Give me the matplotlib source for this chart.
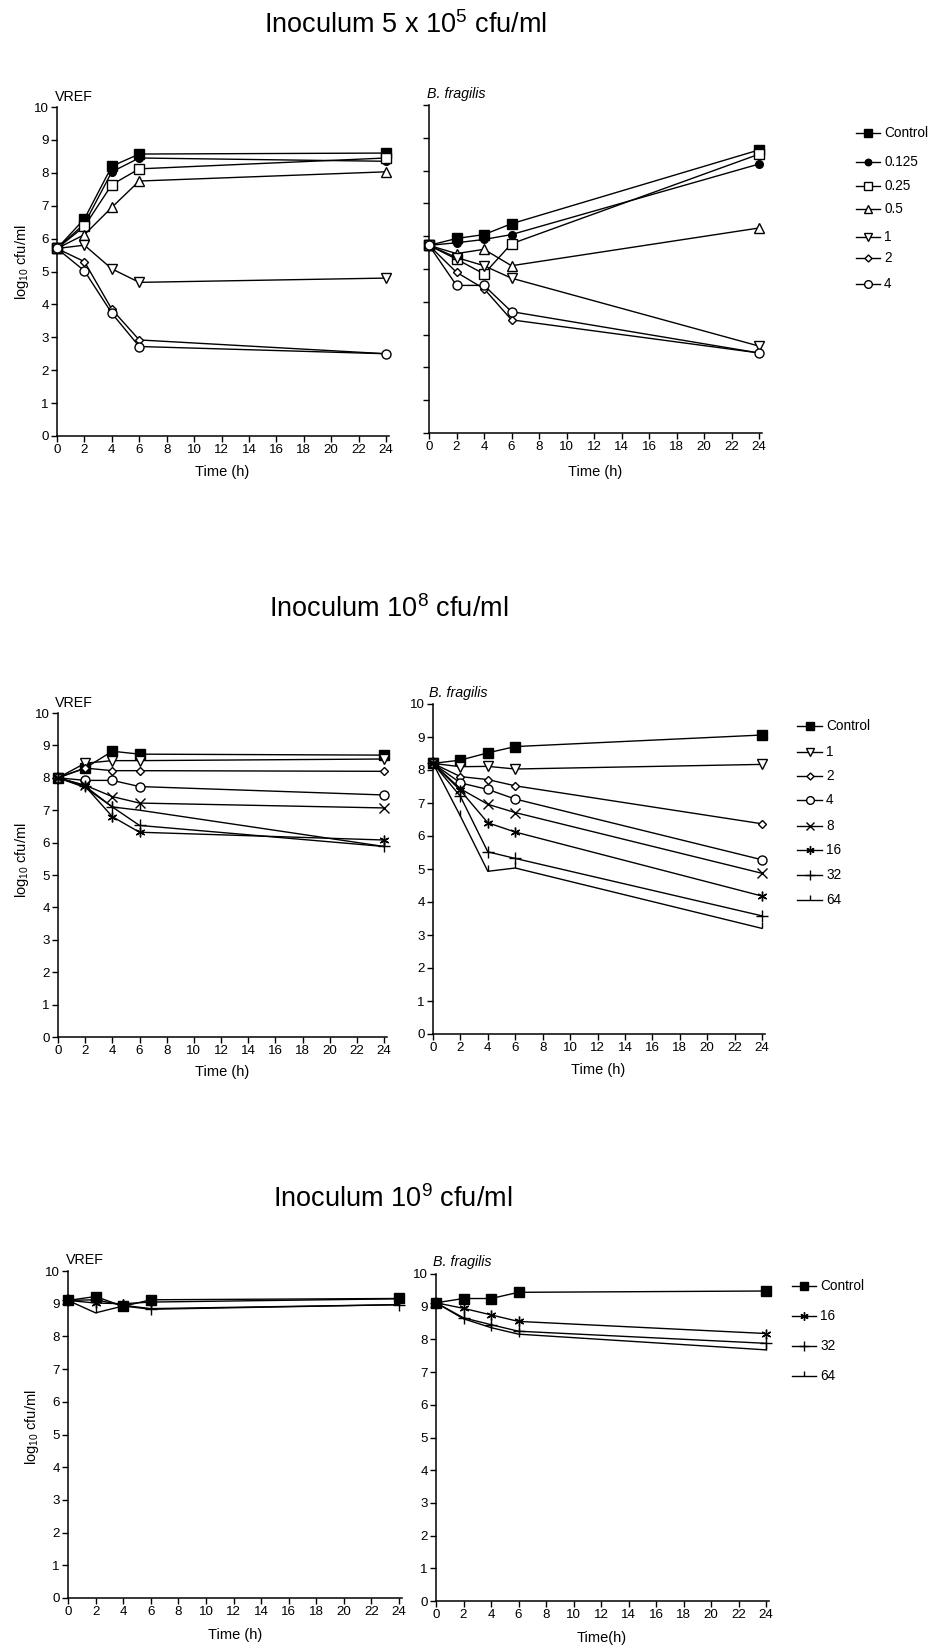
import matplotlib
matplotlib.use("Agg")
import matplotlib.pyplot as plt
from matplotlib.lines import Line2D

plt.rcParams['font.family'] = ['Liberation Sans', 'DejaVu Sans']
plt.rcParams['mathtext.fontset'] = 'custom'
plt.rcParams['mathtext.rm'] = 'Liberation Sans'
plt.rcParams['mathtext.it'] = 'Liberation Sans:italic'

# ---------------- data ----------------
time_h = [0, 2, 4, 6, 24]

# Inoculum 5 x 10^5 cfu/ml
labels_a = ['Control', '0.125', '0.25', '0.5', '1', '2', '4']
vref_a_control = [5.7, 6.6, 8.2, 8.57, 8.6]
vref_a_0125 = [5.7, 6.45, 8.03, 8.45, 8.35]
vref_a_025 = [5.7, 6.37, 7.64, 8.12, 8.45]
vref_a_05 = [5.7, 6.12, 6.95, 7.75, 8.03]
vref_a_1 = [5.7, 5.8, 5.08, 4.67, 4.8]
vref_a_2 = [5.7, 5.3, 3.85, 2.92, 2.5]
vref_a_4 = [5.7, 5.02, 3.73, 2.72, 2.5]
bfrag_a_control = [5.72, 5.93, 6.05, 6.38, 8.63]
bfrag_a_0125 = [5.72, 5.8, 5.9, 6.05, 8.2]
bfrag_a_025 = [5.72, 5.3, 4.85, 5.77, 8.5]
bfrag_a_05 = [5.72, 5.47, 5.6, 5.1, 6.25]
bfrag_a_1 = [5.72, 5.35, 5.1, 4.72, 2.65]
bfrag_a_2 = [5.72, 4.9, 4.4, 3.45, 2.44]
bfrag_a_4 = [5.72, 4.5, 4.5, 3.7, 2.44]

# Inoculum 10^8 cfu/ml
labels_b = ['Control', '1', '2', '4', '8', '16', '32', '64']
vref_b_control = [8.0, 8.3, 8.82, 8.73, 8.7]
vref_b_1 = [8.0, 8.45, 8.53, 8.53, 8.58]
vref_b_2 = [8.0, 8.3, 8.22, 8.22, 8.2]
vref_b_4 = [8.0, 7.92, 7.92, 7.73, 7.47]
vref_b_8 = [8.0, 7.77, 7.42, 7.22, 7.07]
vref_b_16 = [8.0, 7.74, 6.8, 6.32, 6.08]
vref_b_32 = [8.0, 7.74, 7.1, 6.53, 5.88]
vref_b_64 = [8.0, 7.7, 7.1, 7.0, 5.88]
bfrag_b_control = [8.2, 8.3, 8.52, 8.71, 9.06]
bfrag_b_1 = [8.2, 8.1, 8.11, 8.03, 8.17]
bfrag_b_2 = [8.2, 7.8, 7.71, 7.52, 6.37]
bfrag_b_4 = [8.2, 7.61, 7.41, 7.12, 5.28]
bfrag_b_8 = [8.2, 7.43, 6.96, 6.71, 4.87]
bfrag_b_16 = [8.2, 7.38, 6.4, 6.12, 4.18]
bfrag_b_32 = [8.2, 7.2, 5.52, 5.32, 3.58]
bfrag_b_64 = [8.2, 6.6, 4.93, 5.03, 3.2]

# Inoculum 10^9 cfu/ml
labels_c = ['Control', '16', '32', '64']
vref_c_control = [9.1, 9.22, 8.92, 9.12, 9.16]
vref_c_16 = [9.1, 9.02, 9.0, 9.05, 9.15]
vref_c_32 = [9.1, 9.12, 8.95, 8.85, 8.97]
vref_c_64 = [9.1, 8.72, 8.93, 8.83, 8.97]
bfrag_c_control = [9.12, 9.25, 9.25, 9.44, 9.48]
bfrag_c_16 = [9.12, 8.95, 8.75, 8.55, 8.18]
bfrag_c_32 = [9.12, 8.66, 8.45, 8.25, 7.88]
bfrag_c_64 = [9.12, 8.63, 8.36, 8.16, 7.68]

# ---------------- styles ----------------
STY = {
    'Control': dict(marker='s', mfc='black', ms=6.5),
    '0.125': dict(marker='o', mfc='black', ms=5.5),
    '0.25': dict(marker='s', mfc='white', ms=6.5),
    '0.5': dict(marker='^', mfc='white', ms=6.5),
    '1': dict(marker='v', mfc='white', ms=6.5),
    '2': dict(marker='D', mfc='white', ms=4.2),
    '4': dict(marker='o', mfc='white', ms=6.5),
    '8': dict(marker='x', mfc='black', ms=6.5),
    '16': dict(marker=(6, 2, 0), mfc='black', ms=7),
    '32': dict(marker='+', mfc='black', ms=8),
    '64': dict(marker=2, mfc='black', ms=4),
}

W, H = 930.0, 1648.0
fig = plt.figure(figsize=(9.3, 16.48), dpi=100)


def fx(px):
    return px / W


def fy(py):
    return 1 - py / H


def make_ax(x0, x24, y0, y10, ylabels=True):
    xmax = 24.2
    w = (x24 - x0) * xmax / 24.0
    ax = fig.add_axes([fx(x0), fy(y0), w / W, (y0 - y10) / H])
    ax.set_xlim(0, xmax)
    ax.set_ylim(0, 10)
    ax.set_xticks(range(0, 25, 2))
    ax.set_yticks(range(0, 11))
    for s in ('top', 'right'):
        ax.spines[s].set_visible(False)
    for s in ('left', 'bottom'):
        ax.spines[s].set_linewidth(1.1)
    ax.tick_params(direction='out', length=4, width=1.0, labelsize=9.6, pad=2)
    if not ylabels:
        ax.tick_params(axis='y', labelleft=False)
    ax.patch.set_alpha(0)
    return ax


def plot_series(ax, labels, series):
    for lab, vals in zip(labels, series):
        st = STY[lab]
        ax.plot(time_h, vals, color='black', lw=1.0, marker=st['marker'],
                ms=st['ms'], mfc=st['mfc'], mec='black', mew=1.0,
                clip_on=False, zorder=3)


def draw_legend(labels, x0, x1, xt, ys):
    for lab, y in zip(labels, ys):
        st = STY[lab]
        fig.add_artist(Line2D([fx(x0), fx(x1)], [fy(y), fy(y)], transform=fig.transFigure,
                              color='black', lw=1.0))
        fig.add_artist(Line2D([fx((x0 + x1) / 2)], [fy(y)], transform=fig.transFigure,
                              marker=st['marker'], ms=st['ms'] * 0.85, mfc=st['mfc'],
                              mec='black', mew=1.0, lw=0))
        fig.text(fx(xt), fy(y), lab, fontsize=9.8, ha='left', va='center')


def ylab(x, y):
    fig.text(fx(x), fy(y), r'log$_{10}$ cfu/ml', rotation=90, ha='center', va='center',
             fontsize=10.5)


def xlab(x, y, txt='Time (h)'):
    fig.text(fx(x), fy(y), txt, ha='center', va='center', fontsize=10.5)


def title(x, ybase, txt):
    fig.text(fx(x), fy(ybase), txt, ha='center', va='baseline', fontsize=19.5)


def panel(x, ybase, txt, italic=False):
    fig.text(fx(x), fy(ybase), txt, ha='left', va='baseline', fontsize=10.3,
             style='italic' if italic else 'normal')


# ---------------- row 1 ----------------
title(406, 33, r'Inoculum 5 x 10$^5$ cfu/ml')
ax1 = make_ax(57, 386, 436, 107)
plot_series(ax1, labels_a, [vref_a_control, vref_a_0125, vref_a_025, vref_a_05,
                            vref_a_1, vref_a_2, vref_a_4])
ax2 = make_ax(429, 759, 433, 105, ylabels=False)
plot_series(ax2, labels_a, [bfrag_a_control, bfrag_a_0125, bfrag_a_025, bfrag_a_05,
                            bfrag_a_1, bfrag_a_2, bfrag_a_4])
panel(55, 101, 'VREF')
panel(427, 98, 'B. fragilis', italic=True)
ylab(22, 262)
xlab(222, 472)
xlab(595, 472)
draw_legend(labels_a, 856, 880, 884, [133, 162, 186, 209, 237, 258, 284])

# ---------------- row 2 ----------------
title(389, 617, r'Inoculum 10$^8$ cfu/ml')
ax3 = make_ax(58, 384, 1037, 713)
plot_series(ax3, labels_b, [vref_b_control, vref_b_1, vref_b_2, vref_b_4,
                            vref_b_8, vref_b_16, vref_b_32, vref_b_64])
ax4 = make_ax(433, 762, 1034, 704)
plot_series(ax4, labels_b, [bfrag_b_control, bfrag_b_1, bfrag_b_2, bfrag_b_4,
                            bfrag_b_8, bfrag_b_16, bfrag_b_32, bfrag_b_64])
panel(55, 707, 'VREF')
panel(429, 697, 'B. fragilis', italic=True)
ylab(22, 860)
xlab(222, 1072)
xlab(598, 1070)
draw_legend(labels_b, 797, 822, 826, [726, 752, 776, 800, 826, 850, 875, 900])

# ---------------- row 3 ----------------
title(393, 1207, r'Inoculum 10$^9$ cfu/ml')
ax5 = make_ax(68, 399, 1598, 1271)
plot_series(ax5, labels_c, [vref_c_control, vref_c_16, vref_c_32, vref_c_64])
ax6 = make_ax(436, 766, 1601, 1274)
plot_series(ax6, labels_c, [bfrag_c_control, bfrag_c_16, bfrag_c_32, bfrag_c_64])
panel(66, 1264, 'VREF')
panel(433, 1266, 'B. fragilis', italic=True)
ylab(32, 1427)
xlab(235, 1635)
xlab(602, 1638, 'Time(h)')
draw_legend(labels_c, 792, 816, 820, [1286, 1316, 1346, 1376])

fig.savefig('out.png', dpi=100, facecolor='white')
